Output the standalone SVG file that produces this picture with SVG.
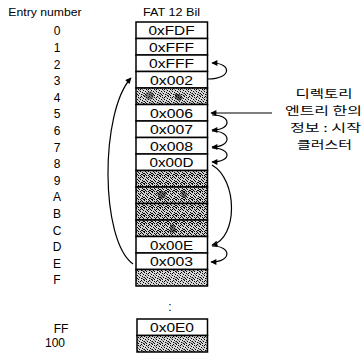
<svg xmlns="http://www.w3.org/2000/svg" width="364" height="356" viewBox="0 0 364 356">
<style>
  .lbl{font-family:"Liberation Sans",Arial,sans-serif;font-size:10.5px;fill:#000}
  .num{font-family:"Liberation Sans",Arial,sans-serif;font-size:12px;fill:#000;text-anchor:middle}
  .val{font-family:"Liberation Sans",Arial,sans-serif;font-size:12.5px;fill:#000;text-anchor:middle}
  .kr{font-family:"Noto Sans CJK KR","Noto Sans CJK SC",sans-serif;font-size:11.5px;fill:#000;text-anchor:middle}
  .cell{fill:#fff;stroke:#000;stroke-width:1.5}
  .sh{fill:url(#dith);stroke:#000;stroke-width:1.5}
  .shd{fill:url(#dithd);stroke:#000;stroke-width:1.5}
  .con{fill:none;stroke:#000;stroke-width:1.2}
</style>
<defs>
  <pattern id="dith" width="8" height="8" patternUnits="userSpaceOnUse">
    <rect width="8" height="8" fill="#d8d8d8"/>
    <path d="M0 0h1v1h-1zM2 1h1v1h-1zM5 0h1v1h-1zM7 2h1v1h-1zM1 3h1v1h-1zM4 3h1v1h-1zM6 4h1v1h-1zM0 5h1v1h-1zM3 5h1v1h-1zM5 6h1v1h-1zM2 7h1v1h-1zM7 7h1v1h-1zM4 1h1v1h-1zM1 6h1v1h-1z" fill="#000"/>
    <path d="M3 2h1v1h-1zM6 1h1v1h-1zM0 7h1v1h-1zM6 6h1v1h-1zM2 4h1v1h-1zM7 5h1v1h-1z" fill="#777"/>
  </pattern>
  <pattern id="dithd" width="8" height="8" patternUnits="userSpaceOnUse">
    <rect width="8" height="8" fill="#cfcfcf"/>
    <path d="M0 0h1v1h-1zM2 1h1v1h-1zM5 0h1v1h-1zM7 2h1v1h-1zM1 3h1v1h-1zM4 3h1v1h-1zM6 4h1v1h-1zM0 5h1v1h-1zM3 5h1v1h-1zM5 6h1v1h-1zM2 7h1v1h-1zM7 7h1v1h-1zM4 1h1v1h-1zM1 6h1v1h-1zM3 2h1v1h-1zM6 1h1v1h-1zM0 7h1v1h-1zM6 6h1v1h-1zM2 4h1v1h-1zM7 5h1v1h-1zM4 7h1v1h-1z" fill="#000"/>
  </pattern>
  <marker id="ah" viewBox="0 0 10 10" refX="9" refY="5" markerWidth="9" markerHeight="6" orient="auto" markerUnits="userSpaceOnUse">
    <path d="M0,0 L10,5 L0,10 z" fill="#000"/>
  </marker>
</defs>
<rect width="364" height="356" fill="#fff"/>

<g id="headers">
  <text class="lbl" x="8.3" y="15.5" textLength="73.4" lengthAdjust="spacingAndGlyphs">Entry number</text>
  <text class="lbl" x="143" y="15.5" textLength="57" lengthAdjust="spacingAndGlyphs">FAT 12 Bil</text>
</g>

<g id="entry-numbers">
  <text class="num" x="57" y="35.3">0</text>
  <text class="num" x="57" y="51.9">1</text>
  <text class="num" x="57" y="68.5">2</text>
  <text class="num" x="57" y="85.1">3</text>
  <text class="num" x="57" y="101.7">4</text>
  <text class="num" x="57" y="118.3">5</text>
  <text class="num" x="57" y="134.9">6</text>
  <text class="num" x="57" y="151.5">7</text>
  <text class="num" x="57" y="168.1">8</text>
  <text class="num" x="57" y="184.7">9</text>
  <text class="num" x="57" y="201.3">A</text>
  <text class="num" x="57" y="217.9">B</text>
  <text class="num" x="57" y="234.5">C</text>
  <text class="num" x="57" y="251.1">D</text>
  <text class="num" x="57" y="267.7">E</text>
  <text class="num" x="57" y="284.3">F</text>
  <text class="num" x="61" y="333">FF</text>
  <text class="num" x="55" y="347">100</text>
</g>

<g id="fat-table">
  <g id="e0"><rect class="cell" x="136" y="22" width="71.5" height="16.5"/><text class="val" x="171.5" y="35" textLength="46" lengthAdjust="spacingAndGlyphs">0xFDF</text></g>
  <g id="e1"><rect class="cell" x="136" y="38.5" width="71.5" height="16.5"/><text class="val" x="171.5" y="51.5" textLength="45" lengthAdjust="spacingAndGlyphs">0xFFF</text></g>
  <g id="e2"><rect class="cell" x="136" y="55" width="71.5" height="16.5"/><text class="val" x="171.5" y="68" textLength="45" lengthAdjust="spacingAndGlyphs">0xFFF</text></g>
  <g id="e3"><rect class="cell" x="136" y="71.5" width="71.5" height="16.5"/><text class="val" x="171.5" y="84.5" textLength="43" lengthAdjust="spacingAndGlyphs">0x002</text></g>
  <g id="e4"><rect class="sh" x="136" y="88" width="71.5" height="16.5"/>
    <path d="M146 93 l5 -2 l3 3 l-1 5 l-5 1 l-3 -3 z" fill="#222" opacity="0.5"/>
    <path d="M175 94 l5 0 l3 4 l-3 3 l-5 -2 z" fill="#000" opacity="0.6"/>
  </g>
  <g id="e5"><rect class="cell" x="136" y="104.5" width="71.5" height="16.5"/><text class="val" x="171.5" y="117.5" textLength="43" lengthAdjust="spacingAndGlyphs">0x006</text></g>
  <g id="e6"><rect class="cell" x="136" y="121" width="71.5" height="16.5"/><text class="val" x="171.5" y="134" textLength="43" lengthAdjust="spacingAndGlyphs">0x007</text></g>
  <g id="e7"><rect class="cell" x="136" y="137.5" width="71.5" height="16.5"/><text class="val" x="171.5" y="150.5" textLength="43" lengthAdjust="spacingAndGlyphs">0x008</text></g>
  <g id="e8"><rect class="cell" x="136" y="154" width="71.5" height="16.5"/><text class="val" x="171.5" y="167" textLength="44" lengthAdjust="spacingAndGlyphs">0x00D</text></g>
  <g id="e9"><rect class="shd" x="136" y="170.5" width="71.5" height="16.5"/></g>
  <g id="eA"><rect class="shd" x="136" y="187" width="71.5" height="16.5"/>
    <path d="M160 191 l7 1 l-2 6 l-6 1 l-2 -5 z" fill="#000" opacity="0.5"/>
    <path d="M182 190 l5 3 l-1 5 l-5 -1 z" fill="#000" opacity="0.5"/>
  </g>
  <g id="eB"><rect class="shd" x="136" y="203.5" width="71.5" height="16.5"/></g>
  <g id="eC"><rect class="shd" x="136" y="220" width="71.5" height="16.5"/>
    <path d="M170 224 l5 1 l1 7 l-6 1 z" fill="#000" opacity="0.5"/>
  </g>
  <g id="eD"><rect class="cell" x="136" y="236.5" width="71.5" height="16.5"/><text class="val" x="171.5" y="249.5" textLength="43" lengthAdjust="spacingAndGlyphs">0x00E</text></g>
  <g id="eE"><rect class="cell" x="136" y="253" width="71.5" height="16.5"/><text class="val" x="171.5" y="266" textLength="43" lengthAdjust="spacingAndGlyphs">0x003</text></g>
  <g id="eF"><rect class="sh" x="136" y="269.5" width="71.5" height="16.5"/></g>
  <g id="ellipsis"><text class="num" x="170" y="311">:</text></g>
  <g id="eFF"><rect class="cell" x="137" y="319" width="70.5" height="16.5"/><text class="val" x="172" y="332" textLength="44" lengthAdjust="spacingAndGlyphs">0x0E0</text></g>
  <g id="e100"><rect class="sh" x="137" y="335.5" width="70.5" height="16.5"/></g>
</g>

<g id="note">
  <text class="kr" x="324" y="98" textLength="57" lengthAdjust="spacingAndGlyphs">디렉토리</text>
  <text class="kr" x="323.5" y="115" textLength="77" lengthAdjust="spacingAndGlyphs">엔트리 한의</text>
  <text class="kr" x="325.5" y="132" textLength="71" lengthAdjust="spacingAndGlyphs">정보 : 시작</text>
  <text class="kr" x="324.5" y="149" textLength="55" lengthAdjust="spacingAndGlyphs">클러스터</text>
</g>

<g id="connectors">
  <path class="con" d="M272 113 L211 113" marker-end="url(#ah)"/>
  <path class="con" d="M212 115 C232 115 232 130 212 130" marker-end="url(#ah)"/>
  <path class="con" d="M212 131 C232 131 232 147 212 147" marker-end="url(#ah)"/>
  <path class="con" d="M212 148 C232 148 232 162 212 162" marker-end="url(#ah)"/>
  <path class="con" d="M212 165 C238 180 238 238 212 245" marker-end="url(#ah)"/>
  <path class="con" d="M212 246 C232 246 232 262 211 262" marker-end="url(#ah)"/>
  <path class="con" d="M133 264 C100 240 100 112 131 78" marker-end="url(#ah)"/>
  <path class="con" d="M208 79 C232 79 232 63 212 63" marker-end="url(#ah)"/>
</g>
</svg>
